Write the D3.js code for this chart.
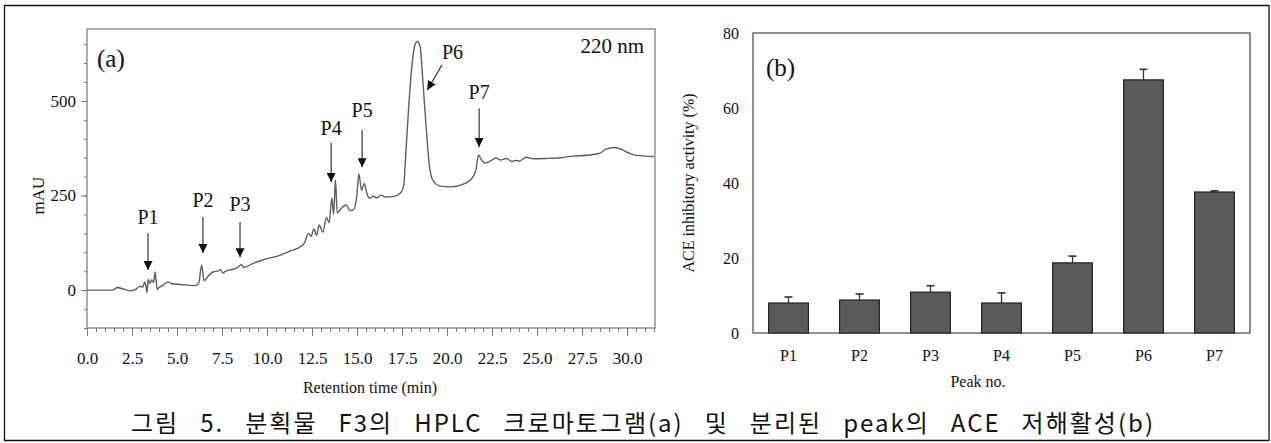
<!DOCTYPE html>
<html>
<head>
<meta charset="utf-8">
<script src="https://cdn.jsdelivr.net/npm/d3@7"></script>
<style>
  html, body { margin: 0; padding: 0; background: #fff; }
  svg { display: block; }
  text { font-family: "Liberation Serif", "Times New Roman", serif; fill: #111; }
</style>
</head>
<body>
<svg id="fig" width="1271" height="443"></svg>
<script>
// (a) HPLC chromatogram at 220 nm: retention time (min) vs absorbance (mAU)
const retentionTime = [0, 1.4, 1.7, 1.9, 2.4, 2.7, 2.94, 3.1, 3.2, 3.28, 3.33, 3.4, 3.5, 3.6, 3.7, 3.78, 3.9, 4.0, 4.2, 4.5, 4.7, 5.17, 6.0, 6.2, 6.37, 6.5, 6.75, 7.0, 7.3, 7.4, 7.55, 7.7, 8.3, 8.58, 8.7, 9.2, 9.7, 10.7, 11.3, 11.9, 12.1, 12.3, 12.45, 12.6, 12.75, 12.9, 13.1, 13.3, 13.45, 13.6, 13.7, 13.8, 13.9, 14.1, 14.4, 14.6, 14.8, 14.98, 15.1, 15.25, 15.4, 15.55, 15.7, 15.9, 16.1, 16.3, 16.6, 17.0, 17.4, 17.6, 17.67, 17.85, 18.04, 18.2, 18.35, 18.5, 18.65, 18.85, 19.0, 19.2, 19.6, 20.2, 20.7, 21.3, 21.6, 21.75, 21.9, 22.1, 22.4, 22.7, 23.0, 23.3, 23.6, 23.8, 24.0, 24.4, 24.8, 25.5, 26.3, 27.0, 27.9, 28.5, 28.8, 29.3, 29.7, 30.1, 30.5, 31.5];
const absorbance = [0, 0, 7, 5, -2, 2, 10, 8, 21, 10, -7, 28, 18, 27, 20, 48, 2, 7, 12, 22, 17, 15, 12, 18, 66, 25, 38, 48, 51, 55, 45, 50, 58, 67, 60, 70, 79, 92, 104, 116, 127, 150, 142, 162, 145, 172, 153, 192, 178, 243, 200, 291, 204, 215, 225, 210, 212, 247, 307, 264, 282, 255, 243, 248, 244, 251, 246, 247, 256, 278, 330, 470, 590, 645, 657, 645, 556, 423, 336, 291, 275, 273, 277, 291, 317, 357, 345, 336, 341, 349, 344, 348, 340, 343, 341, 351, 347, 348, 350, 354, 357, 362, 372, 377, 372, 362, 356, 353];

// peak annotations (retention time of arrow, arrow start / end in mAU, label baseline in mAU)
const peakNames   = ["P1", "P2", "P3", "P4", "P5", "P6", "P7"];
const arrowTime   = [3.39, 6.44, 8.5, 13.56, 15.28, 19.72, 21.78];
const arrowTimeTo = [3.39, 6.44, 8.5, 13.56, 15.28, 18.9, 21.78];
const arrowFrom   = [151, 193, 180, 389, 423, 595, 480];
const arrowTo     = [53, 98, 87, 286, 325, 529, 378];
const labelTime   = [3.39, 6.44, 8.5, 13.56, 15.28, 20.3, 21.78];
const labelValue  = [176, 221, 208, 411, 458, 612, 505];

const timeTicks = [0, 2.5, 5, 7.5, 10, 12.5, 15, 17.5, 20, 22.5, 25, 27.5, 30];
const mauTicks = [0, 250, 500];

// (b) ACE inhibitory activity of separated peaks
const peaks = ["P1", "P2", "P3", "P4", "P5", "P6", "P7"];
const inhibition = [8.0, 8.8, 10.9, 8.0, 18.7, 67.5, 37.6];
const inhibitionSD = [1.6, 1.6, 1.7, 2.7, 1.8, 2.8, 0.3];
const activityTicks = [0, 20, 40, 60, 80];

const caption = "그림 5. 분획물 F3의 HPLC 크로마토그램(a) 및 분리된 peak의 ACE 저해활성(b)";

const svg = d3.select("#fig");

// outer frame lines
const frame = svg.append("g").attr("stroke", "#111").attr("stroke-width", 1.3);
frame.append("line").attr("x1", 4).attr("x2", 1269).attr("y1", 5.5).attr("y2", 5.5);
frame.append("line").attr("x1", 4.5).attr("x2", 4.5).attr("y1", 5).attr("y2", 441);
frame.append("line").attr("x1", 4).attr("x2", 1269).attr("y1", 440.5).attr("y2", 440.5);
frame.append("line").attr("x1", 1269).attr("x2", 1269).attr("y1", 5).attr("y2", 441);

// ---------- panel (a) ----------
const A = { left: 87, right: 655, top: 29, bottom: 328 };
const x = d3.scaleLinear().domain([0, 31.55]).range([A.left, A.right]);
const y = d3.scaleLinear().domain([-100, 690]).range([A.bottom, A.top]);

const ga = svg.append("g");
ga.append("rect")
  .attr("x", A.left).attr("y", A.top)
  .attr("width", A.right - A.left).attr("height", A.bottom - A.top)
  .attr("fill", "none").attr("stroke", "#777").attr("stroke-width", 1.2);

// x axis: minor ticks every 0.5 min, labelled ticks every 2.5 min
const xMinor = d3.range(0, 31.51, 0.5);
const xAxisG = ga.append("g").attr("transform", `translate(0,${A.bottom})`);
xAxisG.call(d3.axisBottom(x).tickValues(xMinor).tickSize(4).tickFormat(""));
xAxisG.call(g => g.select(".domain").remove());
const xMajorG = ga.append("g").attr("transform", `translate(0,${A.bottom})`)
  .call(d3.axisBottom(x).tickValues(timeTicks).tickSize(8).tickPadding(16).tickFormat(d3.format(".1f")));
xMajorG.select(".domain").remove();
[xAxisG, xMajorG].forEach(g => g.selectAll("line").attr("stroke", "#777"));
xMajorG.selectAll("text").attr("font-size", 17).attr("font-family", "Liberation Serif").attr("fill", "#222");

// y axis
const yMinor = d3.range(-100, 651, 50);
const yAxisG = ga.append("g").attr("transform", `translate(${A.left},0)`)
  .call(d3.axisLeft(y).tickValues(yMinor).tickSize(3).tickFormat(""));
yAxisG.select(".domain").remove();
const yMajorG = ga.append("g").attr("transform", `translate(${A.left},0)`)
  .call(d3.axisLeft(y).tickValues(mauTicks).tickSize(6).tickPadding(5));
yMajorG.select(".domain").remove();
[yAxisG, yMajorG].forEach(g => g.selectAll("line").attr("stroke", "#777"));
yMajorG.selectAll("text").attr("font-size", 17).attr("font-family", "Liberation Serif").attr("fill", "#222");

ga.append("text").attr("x", (A.left + A.right) / 2 - 1).attr("y", 393)
  .attr("text-anchor", "middle").attr("font-size", 16).text("Retention time (min)");
ga.append("text").attr("transform", `translate(44,${y(250)}) rotate(-90)`)
  .attr("text-anchor", "middle").attr("font-size", 17).text("mAU");

// chromatogram trace
const trace = retentionTime.map((t, i) => [t, absorbance[i]]);
ga.append("path").datum(trace)
  .attr("fill", "none").attr("stroke", "#5e5e5e").attr("stroke-width", 1.4)
  .attr("stroke-linejoin", "round")
  .attr("d", d3.line().x(d => x(d[0])).y(d => y(d[1])).curve(d3.curveMonotoneX));

// arrows and peak labels
svg.append("defs").append("marker")
  .attr("id", "head").attr("viewBox", "0 0 10 10")
  .attr("refX", 10).attr("refY", 5)
  .attr("markerWidth", 9).attr("markerHeight", 9)
  .attr("markerUnits", "userSpaceOnUse")
  .attr("orient", "auto")
  .append("path").attr("d", "M0,0 L10,5 L0,10 Z").attr("fill", "#111");

peakNames.forEach((name, i) => {
  ga.append("line")
    .attr("x1", x(arrowTime[i])).attr("y1", y(arrowFrom[i]))
    .attr("x2", x(arrowTimeTo[i])).attr("y2", y(arrowTo[i]))
    .attr("stroke", "#222").attr("stroke-width", 1.1)
    .attr("marker-end", "url(#head)");
  ga.append("text")
    .attr("x", x(labelTime[i])).attr("y", y(labelValue[i]))
    .attr("text-anchor", "middle").attr("font-size", 20).text(name);
});

ga.append("text").attr("x", 97).attr("y", 67).attr("font-size", 25).text("(a)");
ga.append("text").attr("x", 644).attr("y", 53).attr("text-anchor", "end").attr("font-size", 21).text("220 nm");

// ---------- panel (b) ----------
const B = { left: 753, right: 1250, top: 33, bottom: 333 };
const xb = d3.scaleBand().domain(peaks).range([B.left, B.right]).paddingInner(0.44).paddingOuter(0.22);
const yb = d3.scaleLinear().domain([0, 80]).range([B.bottom, B.top]);

const gb = svg.append("g");
gb.append("rect")
  .attr("x", B.left).attr("y", B.top)
  .attr("width", B.right - B.left).attr("height", B.bottom - B.top)
  .attr("fill", "none").attr("stroke", "#555").attr("stroke-width", 1.3);

const ybAxis = gb.append("g").attr("transform", `translate(${B.left},0)`)
  .call(d3.axisLeft(yb).tickValues(activityTicks).tickSize(0).tickPadding(14));
ybAxis.select(".domain").remove();
ybAxis.selectAll("text").attr("font-size", 16).attr("font-family", "Liberation Serif").attr("fill", "#222");

const xbAxis = gb.append("g").attr("transform", `translate(0,${B.bottom})`)
  .call(d3.axisBottom(xb).tickSize(0).tickPadding(17));
xbAxis.select(".domain").remove();
xbAxis.selectAll("text").attr("font-size", 16).attr("font-family", "Liberation Serif").attr("fill", "#222");

gb.append("text").attr("x", 978).attr("y", 387).attr("text-anchor", "middle")
  .attr("font-size", 16).text("Peak no.");
gb.append("text").attr("transform", `translate(694,${(B.top + B.bottom) / 2}) rotate(-90)`)
  .attr("text-anchor", "middle").attr("font-size", 16).text("ACE inhibitory activity (%)");

// error bars (upper whisker only)
peaks.forEach((p, i) => {
  const cx = xb(p) + xb.bandwidth() / 2;
  gb.append("line").attr("x1", cx).attr("x2", cx)
    .attr("y1", yb(inhibition[i])).attr("y2", yb(inhibition[i] + inhibitionSD[i]))
    .attr("stroke", "#333").attr("stroke-width", 1.3);
  gb.append("line").attr("x1", cx - 4).attr("x2", cx + 4)
    .attr("y1", yb(inhibition[i] + inhibitionSD[i])).attr("y2", yb(inhibition[i] + inhibitionSD[i]))
    .attr("stroke", "#333").attr("stroke-width", 1.6);
});

gb.selectAll("rect.bar").data(peaks).join("rect")
  .attr("class", "bar")
  .attr("x", d => xb(d)).attr("width", xb.bandwidth())
  .attr("y", (d, i) => yb(inhibition[i]))
  .attr("height", (d, i) => yb(0) - yb(inhibition[i]))
  .attr("fill", "#5a5a5a").attr("stroke", "#222").attr("stroke-width", 1.2);

gb.append("text").attr("x", 766).attr("y", 76).attr("font-size", 25).text("(b)");

// ---------- caption ----------
// evenly spread glyphs with moderate word gaps across the figure width
const capLeft = 131, capRight = 1155;
const cap = svg.append("text")
  .attr("x", capLeft).attr("y", 432)
  .style("font-family", "'Noto Sans CJK KR', 'Noto Sans', sans-serif")
  .style("fill", "#111")
  .attr("font-size", 24)
  .attr("letter-spacing", 2)
  .text(caption);
const natural = cap.node().getComputedTextLength();
const gaps = caption.split(" ").length - 1;
cap.attr("word-spacing", Math.max(0, (capRight - capLeft - natural) / gaps));
</script>
</body>
</html>
